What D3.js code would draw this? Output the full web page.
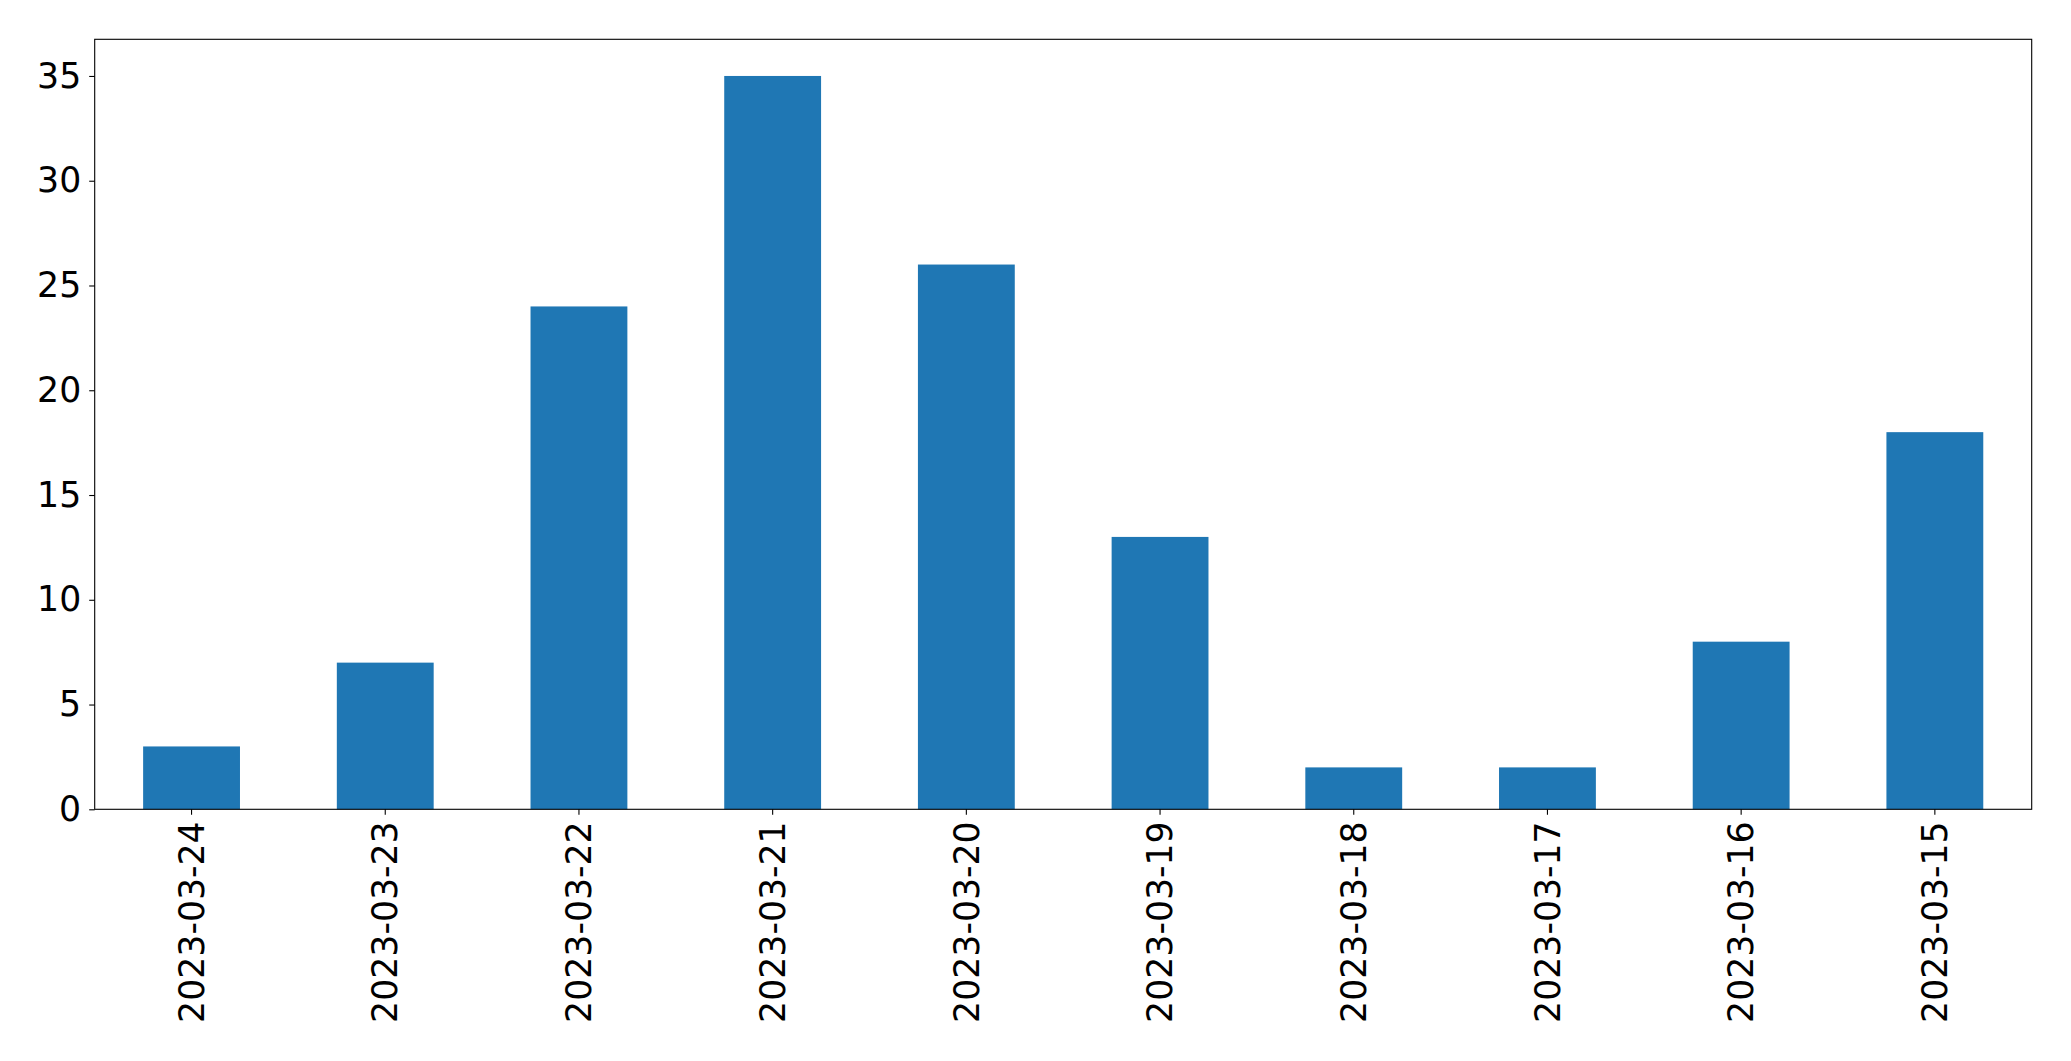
<!DOCTYPE html>
<html>
<head>
<meta charset="utf-8">
<script src="https://cdn.jsdelivr.net/npm/d3@7"></script>
<style>
  html, body { margin: 0; padding: 0; background: #fff; }
  svg { display: block; }
  text { font-family: "DejaVu Sans", sans-serif; fill: #000; }
</style>
</head>
<body>
<svg id="chart" width="2071" height="1061"></svg>
<script>
const categories = ["2023-03-24","2023-03-23","2023-03-22","2023-03-21","2023-03-20","2023-03-19","2023-03-18","2023-03-17","2023-03-16","2023-03-15"];
const values = [3, 7, 24, 35, 26, 13, 2, 2, 8, 18];
const yTicks = [0, 5, 10, 15, 20, 25, 30, 35];

const M = { left: 94.7, right: 2031.7, top: 39.3, bottom: 809.3 };
const fontSize = 34.7;

const svg = d3.select("#chart");

const x = d3.scaleBand().domain(categories).range([M.left, M.right]).paddingInner(0.5).paddingOuter(0.25);
const y = d3.scaleLinear().domain([0, d3.max(values) * 1.05]).range([M.bottom, M.top]);

// bars
svg.append("g").selectAll("rect").data(values).join("rect")
  .attr("x", (d, i) => x(categories[i]))
  .attr("width", x.bandwidth())
  .attr("y", d => y(d))
  .attr("height", d => y(0) - y(d))
  .attr("fill", "#1f77b4");

// frame
svg.append("rect")
  .attr("x", M.left).attr("y", M.top)
  .attr("width", M.right - M.left).attr("height", M.bottom - M.top)
  .attr("fill", "none").attr("stroke", "#000").attr("stroke-width", 1.1);

// y axis
const yAxis = d3.axisLeft(y).tickValues(yTicks).tickSize(5.5).tickPadding(8).tickFormat(d3.format("d"));
const gy = svg.append("g").attr("transform", `translate(${M.left},0)`).call(yAxis);
gy.select(".domain").remove();
gy.selectAll(".tick line").attr("stroke", "#000").attr("stroke-width", 1.1);
gy.selectAll(".tick text").attr("font-size", fontSize).attr("font-family", "DejaVu Sans, sans-serif").attr("fill", "#000");

// x axis
const xAxis = d3.axisBottom(x).tickSize(5.5).tickPadding(0);
const gx = svg.append("g").attr("transform", `translate(0,${M.bottom})`).call(xAxis);
gx.select(".domain").remove();
gx.selectAll(".tick line").attr("stroke", "#000").attr("stroke-width", 1.1);
gx.selectAll(".tick text")
  .attr("font-size", fontSize).attr("font-family", "DejaVu Sans, sans-serif").attr("fill", "#000")
  .attr("text-anchor", "end")
  .attr("transform", "translate(0,12) rotate(-90)")
  .attr("x", 0).attr("y", 0).attr("dy", "0.35em");
</script>
</body>
</html>
